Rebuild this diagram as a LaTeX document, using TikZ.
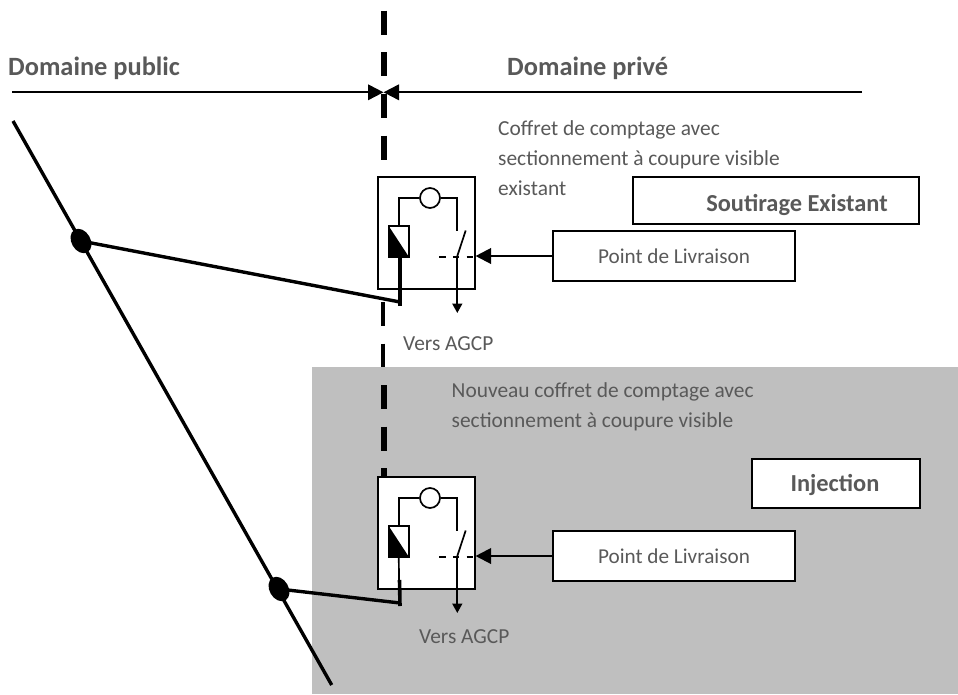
\documentclass[tikz,border=0pt]{standalone}
\usepackage{fontspec}
\setmainfont{Carlito}
\usetikzlibrary{arrows.meta,shapes.geometric}
\definecolor{txtgray}{HTML}{595959}
\definecolor{greybg}{HTML}{BFBFBF}
\tikzset{
  lbl/.style={inner sep=0,text=txtgray,font=\fontsize{21.4}{21.4}\selectfont,anchor=base west},
  head/.style={inner sep=0,text=txtgray,font=\bfseries\fontsize{26.4}{26.4}\selectfont,anchor=base west},
  tag/.style={inner sep=0,text=txtgray,font=\bfseries\fontsize{24.4}{24.4}\selectfont,anchor=base},
  boxed/.style={draw=black,line width=1.7pt,fill=white,inner sep=0,text=txtgray},
  wire/.style={line width=1.7pt},
  heavy/.style={line width=3.4pt},
  thickdash/.style={line width=6pt,dash pattern=on 24pt off 17.6pt},
  bigtip/.style={-{Triangle[length=15.5pt,width=15.5pt]}},
  smalltip/.style={-{Triangle[length=9.5pt,width=10pt]}},
  junction/.style={ellipse,fill=black,inner sep=0,minimum width=26pt,minimum height=19pt,rotate=-60},
}
% one metering cabinet, drawn at y offset #2, node names prefixed by #1
\newcommand{\cabinet}[2]{%
  \node[boxed,minimum width=97pt,minimum height=112pt] (#1box) at (426.2,233+#2) {};
  \node[draw=black,line width=1.7pt,inner sep=0,minimum size=20pt,circle] (#1meter) at (430,198+#2) {};
  \node[draw=black,line width=1.7pt,inner sep=0,minimum width=19.7pt,minimum height=31pt] (#1relay) at (398.8,241.5+#2) {};
  \fill[black] (#1relay.north west) -- (#1relay.south east) -- (#1relay.south west) -- cycle;
  \coordinate (#1swtop) at (457.3,231+#2);
  \coordinate (#1swbase) at (457.3,256+#2);
  \coordinate (#1blade) at (465.7,230.5+#2);
  \coordinate (#1out) at (457.3,313+#2);
  \coordinate (#1dashL) at (439,257.3+#2);
  \coordinate (#1dashR) at (474.5,257.3+#2);
  \draw[wire] (#1relay.north) -- (#1relay.north |- #1meter.west) -- (#1meter.west);
  \draw[wire] (#1meter.east) -- (#1swtop |- #1meter.east) -- (#1swtop);
  \draw[wire] (#1swbase) -- (#1blade);
  \draw[line width=1.7pt,dash pattern=on 6.5pt off 7.3pt] (#1dashL) -- (#1dashR);
  \draw[wire,smalltip] (#1swbase) -- (#1out);
}
\begin{document}
\begin{tikzpicture}[x=1pt,y=-1pt]
\useasboundingbox (0,0) rectangle (958,694);
\fill[white] (0,0) rectangle (958,694);
\fill[greybg] (312.3,367.3) rectangle (958,694);
% boundary between public and private domain
\coordinate (bndA) at (384,10.7); \coordinate (bndB) at (384,299);
\coordinate (bndC) at (383,301.9); \coordinate (bndD) at (383,367.3);
\coordinate (bndE) at (384,385.1); \coordinate (bndF) at (384,477);
\draw[thickdash] (bndA) -- (bndB);
\draw[thickdash,line width=4.4pt] (bndC) -- (bndD);
\draw[thickdash] (bndE) -- (bndF);
% domain arrows
\coordinate (pubL) at (12,92.3); \coordinate (mid) at (383.5,92.3); \coordinate (priR) at (862,92.3);
\draw[line width=2pt,bigtip] (pubL) -- (mid);
\draw[line width=2pt,bigtip] (priR) -- (mid);
\node[head] (dpub) at (8,75) {Domaine public};
\node[head] (dpri) at (507,75) {Domaine privé};
% network line
\coordinate (lineS) at (13,121); \coordinate (lineE) at (331.7,685);
\draw[heavy] (lineS) -- (lineE);
\node[junction] (j1) at (81,241) {};
\node[junction] (j2) at (279,589) {};
% cabinets
\cabinet{a}{0}
\cabinet{b}{300}
% feeders
\coordinate (fa) at (400,302); \coordinate (faE) at (400,306);
\coordinate (fb) at (400,603); \coordinate (fbE) at (400,606);
\draw[heavy] (j1.center) -- (fa);
\draw[line width=4pt] (arelay.south -| fa) -- (faE);
\draw[heavy] (j2.center) -- (fb);
\draw[wire] (brelay.south) -- (399,580);
\coordinate (fbT) at (399.5,580);
\draw[line width=3.6pt] (fbT) -- (fbE);
% delivery boxes
\node[boxed,minimum width=242pt,minimum height=50pt,font=\fontsize{21.2}{21.2}\selectfont] (pa) at (674,256) {Point de Livraison};
\node[boxed,minimum width=242pt,minimum height=50pt,font=\fontsize{21.2}{21.2}\selectfont] (pb) at (674,556) {Point de Livraison};
\draw[line width=2.2pt,bigtip] (pa.west) -- (pa.west -| abox.east);
\draw[line width=2.2pt,bigtip] (pb.west) -- (pb.west -| bbox.east);
\node[boxed,minimum width=286pt,minimum height=47pt] (sout) at (776,200.5) {};
\node[boxed,minimum width=168pt,minimum height=49pt] (inj) at (836,483.5) {};
\node[tag] (soutT) at (797,211.7) {Soutirage Existant};
\node[tag] (injT) at (835,491.7) {Injection};
% texts
\node[lbl] (t1) at (498,135) {Coffret de comptage avec};
\node[lbl] (t2) at (498,165) {sectionnement à coupure visible};
\node[lbl] (t3) at (498,195) {existant};
\node[lbl] (t4) at (403,350) {Vers AGCP};
\node[lbl] (t5) at (451.5,397.5) {Nouveau coffret de comptage avec};
\node[lbl] (t6) at (451.5,427.5) {sectionnement à coupure visible};
\node[lbl] (t7) at (419,643.5) {Vers AGCP};
\end{tikzpicture}
\end{document}
